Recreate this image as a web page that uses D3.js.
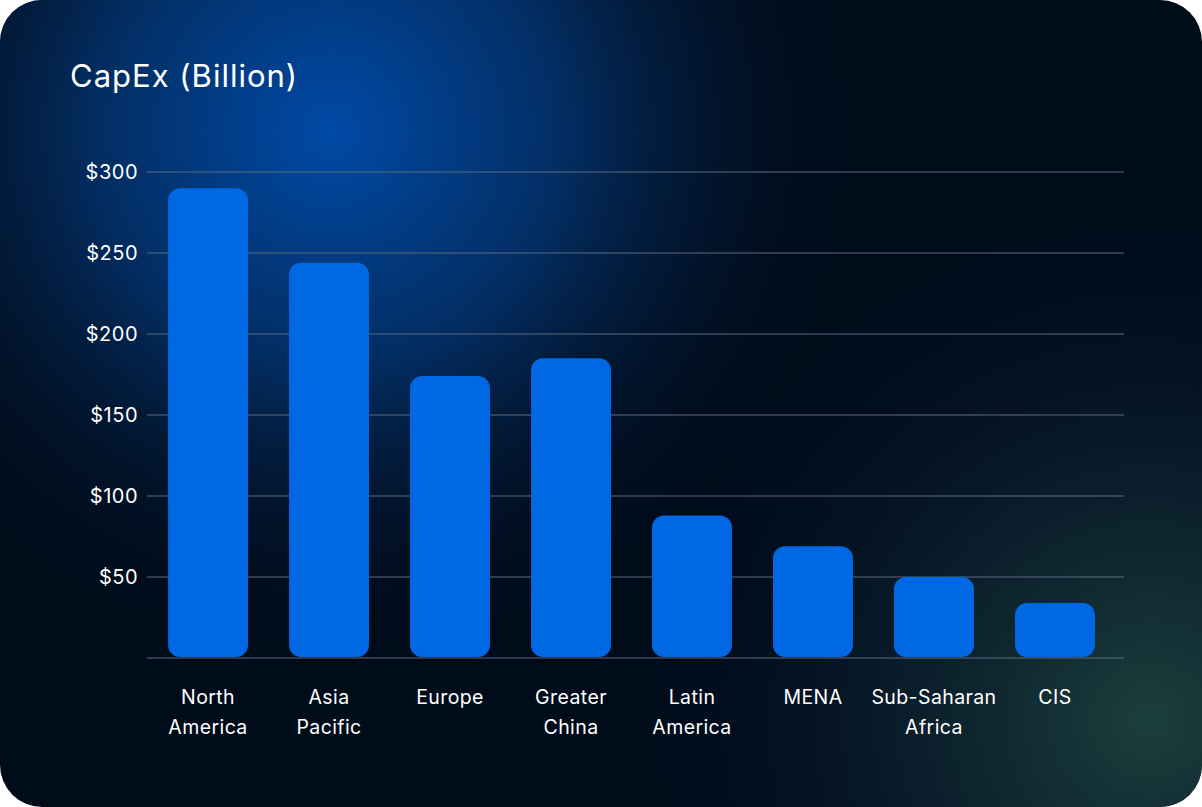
<!DOCTYPE html>
<html><head><meta charset="utf-8">
<script src="https://cdn.jsdelivr.net/npm/d3@7"></script>
<style>body{margin:0;background:#fff}svg{display:block}text{font-family:Inter,"Open Sans",sans-serif}</style>
</head><body><div id="chart"></div>
<script>
var categories = ["North America", "Asia Pacific", "Europe", "Greater China", "Latin America", "MENA", "Sub-Saharan Africa", "CIS"];
var labels = [["North", "America"], ["Asia", "Pacific"], ["Europe"], ["Greater", "China"], ["Latin", "America"], ["MENA"], ["Sub-Saharan", "Africa"], ["CIS"]];
var values = [290, 244, 174, 185, 88, 69, 50, 34];
var ticks = [50, 100, 150, 200, 250, 300];

var width = 1202, height = 807;
var svg = d3.select("#chart").append("svg").attr("width", width).attr("height", height);
var defs = svg.append("defs");

var g1 = defs.append("radialGradient").attr("id", "glow1").attr("gradientUnits", "userSpaceOnUse")
  .attr("cx", 330).attr("cy", 130).attr("r", 520);
g1.append("stop").attr("offset", 0).attr("stop-color", "#004aa6");
g1.append("stop").attr("offset", 0.45).attr("stop-color", "#032d62");
g1.append("stop").attr("offset", 1).attr("stop-color", "#020f22").attr("stop-opacity", 0);
var g2 = defs.append("radialGradient").attr("id", "glow2").attr("gradientUnits", "userSpaceOnUse")
  .attr("cx", 1150).attr("cy", 720).attr("r", 500);
g2.append("stop").attr("offset", 0).attr("stop-color", "#1b3f3d");
g2.append("stop").attr("offset", 0.5).attr("stop-color", "#0d2430").attr("stop-opacity", 0.7);
g2.append("stop").attr("offset", 1).attr("stop-color", "#020f22").attr("stop-opacity", 0);

svg.append("rect").attr("width", width).attr("height", height).attr("rx", 42).attr("fill", "#010c1b");
svg.append("rect").attr("width", width).attr("height", height).attr("rx", 42).attr("fill", "url(#glow2)");
svg.append("rect").attr("width", width).attr("height", height).attr("rx", 42).attr("fill", "url(#glow1)");

svg.append("text").attr("x", 70).attr("y", 87).attr("fill", "#fff").attr("font-size", 31)
  .attr("letter-spacing", 1).text("CapEx (Billion)");

var x = d3.scaleBand().domain(categories).range([147, 1116]).paddingInner(0.339).paddingOuter(0.174);
var y = d3.scaleLinear().domain([0, 300]).range([658, 172]);

svg.selectAll(".grid").data(ticks).enter().append("line")
  .attr("x1", 147).attr("x2", 1124).attr("y1", d => y(d)).attr("y2", d => y(d))
  .attr("stroke", "#5d6b80").attr("stroke-width", 1.2);
svg.append("line").attr("x1", 147).attr("x2", 1124).attr("y1", y(0)).attr("y2", y(0))
  .attr("stroke", "#5d6b80").attr("stroke-width", 1.2);

svg.selectAll(".tick").data(ticks).enter().append("text")
  .attr("x", 138).attr("y", d => y(d) + 7).attr("text-anchor", "end")
  .attr("fill", "#fff").attr("font-size", 20).attr("letter-spacing", 0.5).text(d => "$" + d);

svg.selectAll(".bar").data(values).enter().append("rect")
  .attr("x", (d, i) => x(categories[i])).attr("width", x.bandwidth())
  .attr("y", d => y(d)).attr("height", d => y(0) - y(d) - 1)
  .attr("rx", 12).attr("fill", "#0068e3");

var lab = svg.selectAll(".lab").data(labels).enter().append("text")
  .attr("text-anchor", "middle").attr("fill", "#fff").attr("font-size", 19.5).attr("letter-spacing", 0.4)
  .attr("transform", (d, i) => "translate(" + (x(categories[i]) + x.bandwidth() / 2) + ",704)");
lab.selectAll("tspan").data(d => d).enter().append("tspan")
  .attr("x", 0).attr("dy", (d, i) => i ? 30 : 0).text(d => d);
</script></body></html>
